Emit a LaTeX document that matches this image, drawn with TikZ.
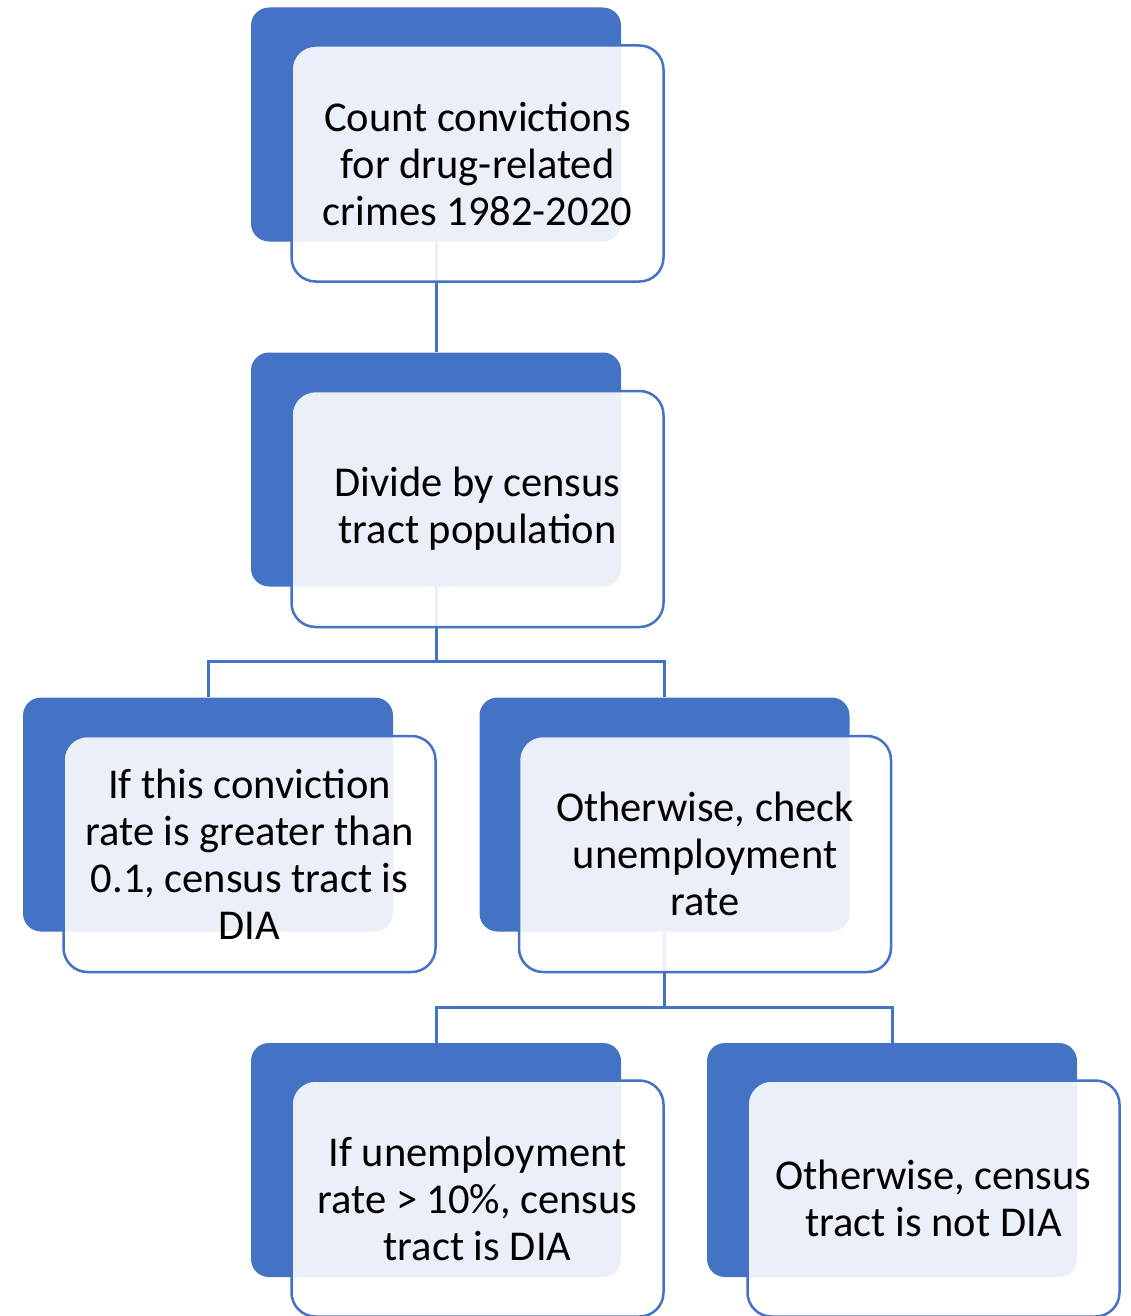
\documentclass[tikz,border=0pt]{standalone}
\usepackage{fontspec}
\setmainfont{Carlito}
\definecolor{acc}{HTML}{4472C4}
\begin{document}
\begin{tikzpicture}[x=1pt,y=-1pt,
  back/.style={fill=acc, rounded corners=18pt, minimum width=370pt, minimum height=234pt, inner sep=0pt},
  front/.style={fill=white, fill opacity=0.89, text opacity=1, draw=acc, line width=2.5pt,
    rounded corners=24pt, minimum width=372pt, minimum height=236pt, align=center,
    font=\fontsize{42.5}{47}\selectfont, text=black, inner sep=0pt},
  conn/.style={draw=acc, line width=3pt}]
\useasboundingbox (0,0) rectangle (1130,1316);
\clip (0,0) rectangle (1130,1316);
% back boxes
\node[back] (b1) at (436,124.5) {};
\node[back] (b2) at (436,469.5) {};
\node[back] (b3) at (208,814.5) {};
\node[back] (b4) at (664.5,814.5) {};
\node[back] (b5) at (436,1160) {};
\node[back] (b6) at (892,1160) {};
% connectors
\coordinate (j1) at (436,661);
\coordinate (j2) at (664.5,1007);
\draw[conn] (b1.south) -- (b2.north);
\draw[conn] (b2.south) -- (j1);
\draw[conn] (b3.north) |- (j1) -| (b4.north);
\draw[conn] (b4.south) -- (j2);
\draw[conn] (b5.north) |- (j2) -| (b6.north);
% front boxes
\node[front] (f1) at (477.5,163.5) {Count convictions\\for drug-related\\crimes 1982-2020};
\node[front] (f2) at (477.5,509) {Divide by census\\tract population};
\node[front] (f3) at (249.5,854) {If this conviction\\rate is greater than\\0.1, census tract is\\DIA};
\node[front] (f4) at (705,854) {Otherwise, check\\unemployment\\rate};
\node[front] (f5) at (477.5,1198.5) {If unemployment\\rate > 10\%, census\\tract is DIA};
\node[front] (f6) at (933.5,1198.5) {Otherwise, census\\tract is not DIA};
\end{tikzpicture}
\end{document}
